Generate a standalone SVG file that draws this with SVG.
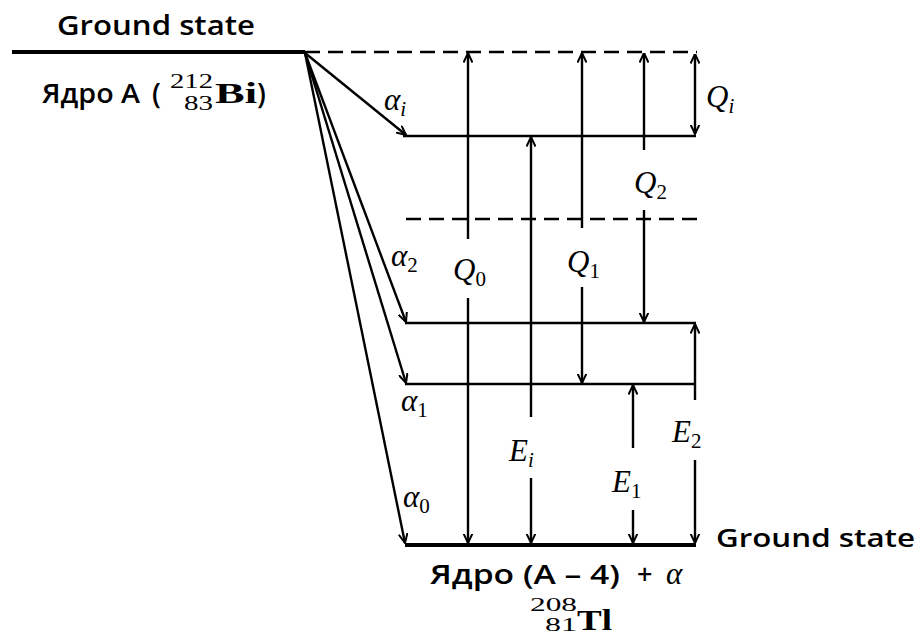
<svg xmlns="http://www.w3.org/2000/svg" width="920" height="639" viewBox="0 0 920 639">
<style>
.lvl{stroke:#000;stroke-width:2.6;fill:none}
.gnd{stroke:#000;stroke-width:4;fill:none}
.dash{stroke:#000;stroke-width:2.6;stroke-dasharray:15 8;fill:none}
.ar{stroke:#000;stroke-width:2.4;fill:none;marker-end:url(#ah)}
.dbl{stroke:#000;stroke-width:2.4;fill:none;marker-end:url(#ah);marker-start:url(#ah)}
.sans{font-family:"Open Sans","Noto Sans","Liberation Sans",sans-serif;font-weight:600;fill:#000}
.m{font-family:"Liberation Serif","DejaVu Serif",serif;font-style:italic;font-size:31px;fill:#000}
.sub{font-family:"Liberation Serif","DejaVu Serif",serif;font-size:21px;font-style:normal}
.subi{font-family:"Liberation Serif","DejaVu Serif",serif;font-size:21px;font-style:italic}
.ser{font-family:"Liberation Serif","DejaVu Serif",serif;fill:#000}
</style>
<defs>
<marker id="ah" viewBox="0 0 10 10" refX="9.5" refY="5" markerWidth="10" markerHeight="10" markerUnits="userSpaceOnUse" orient="auto-start-reverse">
<path d="M0,0.5 L9.5,5 L0,9.5" fill="none" stroke="#000" stroke-width="2"/>
</marker>
</defs>

<g id="initial-state">
<line class="gnd" x1="12" y1="52" x2="305" y2="52"/>
<text class="sans" x="57" y="35" font-size="27" textLength="198" lengthAdjust="spacingAndGlyphs">Ground state</text>
<text class="sans" x="42" y="103" font-size="27" textLength="98" lengthAdjust="spacingAndGlyphs">Ядро А</text>
<text class="sans" x="152" y="104" font-size="28">(</text>
<text class="ser" x="170" y="88" font-size="20" textLength="43" lengthAdjust="spacingAndGlyphs">212</text>
<text class="ser" x="184" y="110" font-size="20" textLength="29" lengthAdjust="spacingAndGlyphs">83</text>
<text class="ser" x="215" y="103" font-size="29" font-weight="bold" textLength="42" lengthAdjust="spacingAndGlyphs">Bi</text>
<text class="sans" x="257" y="104" font-size="28">)</text>
</g>

<g id="level-top-dashed">
<line class="dash" x1="305" y1="52" x2="697" y2="52"/>
</g>
<g id="level-i">
<line class="lvl" x1="403" y1="136" x2="696" y2="136"/>
</g>
<g id="level-mid-dashed">
<line class="dash" x1="406" y1="219" x2="700" y2="219"/>
</g>
<g id="level-2">
<line class="lvl" x1="405" y1="323" x2="696" y2="323"/>
</g>
<g id="level-1">
<line class="lvl" x1="405" y1="384" x2="696" y2="384"/>
</g>
<g id="final-state">
<line class="gnd" x1="405" y1="545" x2="696" y2="545"/>
<text class="sans" x="716" y="547" font-size="26" textLength="199" lengthAdjust="spacingAndGlyphs">Ground state</text>
<text class="sans" x="430" y="584" font-size="27" textLength="190" lengthAdjust="spacingAndGlyphs">Ядро (А – 4)</text>
<text class="sans" x="637" y="584" font-size="27">+</text>
<text class="m" x="666" y="584">α</text>
<text class="ser" x="530" y="611" font-size="19" textLength="47" lengthAdjust="spacingAndGlyphs">208</text>
<text class="ser" x="545" y="631" font-size="19" textLength="32" lengthAdjust="spacingAndGlyphs">81</text>
<text class="ser" x="577" y="630" font-size="30" font-weight="bold" textLength="35" lengthAdjust="spacingAndGlyphs">Tl</text>
</g>

<g id="connectors">
<line class="ar" x1="305" y1="53" x2="406" y2="135"/>
<line class="ar" x1="305" y1="53" x2="406" y2="322"/>
<line class="ar" x1="305" y1="53" x2="406" y2="383"/>
<line class="ar" x1="305" y1="53" x2="405" y2="543"/>

<line class="ar" x1="468" y1="239" x2="468" y2="53"/>
<line class="ar" x1="468" y1="298" x2="468" y2="543"/>
<line class="ar" x1="531" y1="417" x2="531" y2="137"/>
<line class="ar" x1="531" y1="478" x2="531" y2="543"/>
<line class="ar" x1="582" y1="228" x2="582" y2="53"/>
<line class="ar" x1="582" y1="287" x2="582" y2="383"/>
<line class="ar" x1="644" y1="150" x2="644" y2="53"/>
<line class="ar" x1="644" y1="210" x2="644" y2="322"/>
<line class="dbl" x1="695" y1="54" x2="695" y2="134"/>
<line class="ar" x1="633" y1="448" x2="633" y2="385"/>
<line class="ar" x1="633" y1="510" x2="633" y2="543"/>
<line class="ar" x1="695" y1="400" x2="695" y2="324"/>
<line class="ar" x1="695" y1="460" x2="695" y2="543"/>
</g>

<g id="labels">
<text class="m" x="384" y="110">α<tspan class="subi" dy="6">i</tspan></text>
<text class="m" x="391" y="266">α<tspan class="sub" dy="6">2</tspan></text>
<text class="m" x="401" y="411">α<tspan class="sub" dy="6">1</tspan></text>
<text class="m" x="403" y="507">α<tspan class="sub" dy="6">0</tspan></text>
<text class="m" x="453" y="280">Q<tspan class="sub" dy="6">0</tspan></text>
<text class="m" x="567" y="272">Q<tspan class="sub" dy="6">1</tspan></text>
<text class="m" x="634" y="193">Q<tspan class="sub" dy="6">2</tspan></text>
<text class="m" x="706" y="107">Q<tspan class="subi" dy="6">i</tspan></text>
<text class="m" x="509" y="461">E<tspan class="subi" dy="6">i</tspan></text>
<text class="m" x="612" y="492">E<tspan class="sub" dy="6">1</tspan></text>
<text class="m" x="672" y="442">E<tspan class="sub" dy="6">2</tspan></text>
</g>
</svg>
